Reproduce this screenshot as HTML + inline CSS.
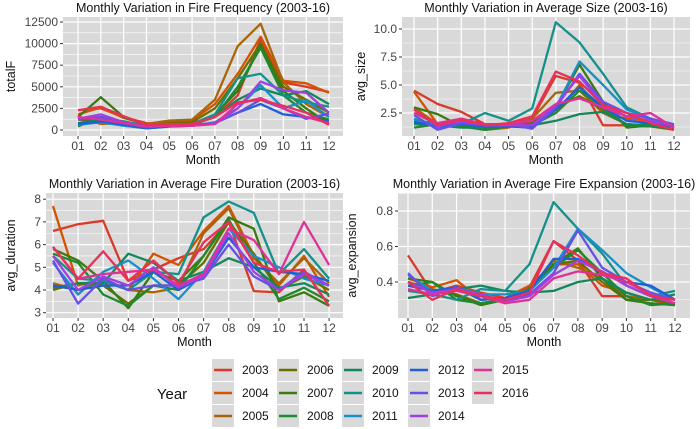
<!DOCTYPE html>
<html><head><meta charset="utf-8"><style>
body{margin:0;background:#fff;}
svg{font-family:"Liberation Sans",sans-serif;display:block;}
</style></head><body>
<svg id="c" width="696" height="429" viewBox="0 0 696 429"></svg>
<script>
const months=["01","02","03","04","05","06","07","08","09","10","11","12"];
const years=["2003","2004","2005","2006","2007","2008","2009","2010","2011","2012","2013","2014","2015","2016"];
const colors=["#D93A2B","#D35400","#A9650A","#6B6E00","#3A7A10","#1E8A2E","#14875A","#14918A","#1790C8","#1D5FD6","#6650E6","#A040E0","#E0309A","#E8305A"];
const totalF=[
[2300,2500,1500,800,600,800,1500,4000,10500,5500,5000,4400],
[1800,2600,1400,700,1000,1100,3000,6500,10800,5700,5400,4300],
[1500,700,800,700,1100,1200,3500,9700,12300,5500,3000,1500],
[1200,1000,900,500,800,900,2500,6000,10000,5000,3500,2000],
[1500,3800,1500,600,500,700,1800,4500,9800,4500,2500,700],
[400,1500,900,400,500,600,1500,5000,9500,4000,2000,1200],
[800,1200,1000,500,600,700,1500,3500,4800,4000,4500,3000],
[1300,1500,1000,400,600,700,1800,6000,6500,4000,3200,2700],
[600,900,500,200,400,500,900,2500,5200,2500,3400,1500],
[700,1000,600,200,400,500,800,2000,3000,1800,1500,1000],
[1200,1500,800,300,500,600,800,2000,3500,2500,1300,1900],
[1300,1800,900,400,500,500,700,2500,5600,4600,4300,2000],
[1500,1200,800,400,500,500,700,3000,3700,2500,1500,800],
[2300,2700,1600,600,700,700,1500,3200,3500,2800,2000,600]];
const avgSize=[
[4.5,3.3,2.6,1.5,1.4,2.0,5.8,5.2,1.4,1.4,1.3,1.2],
[4.4,1.5,1.5,1.2,1.3,1.6,2.5,5.0,2.5,2.0,1.8,1.1],
[3.0,1.5,1.4,1.0,1.2,2.0,4.3,4.5,2.5,1.5,1.3,1.0],
[2.5,1.5,1.8,1.5,1.4,1.6,3.0,4.0,2.8,1.4,1.5,1.2],
[3.0,2.4,1.3,1.0,1.3,1.5,3.0,6.8,3.5,1.2,1.4,1.3],
[1.2,1.5,1.4,1.0,1.3,1.4,2.5,4.5,3.0,1.4,1.3,1.1],
[1.5,1.4,1.2,1.2,1.3,1.4,1.8,2.4,2.6,1.5,1.4,1.2],
[1.8,1.6,1.5,2.5,1.8,2.9,10.6,8.8,6.0,3.0,2.0,1.4],
[2.0,1.2,1.5,1.3,1.3,1.2,3.0,7.1,5.0,2.8,2.0,1.2],
[1.7,1.3,1.5,1.3,1.3,1.2,2.8,4.8,3.0,1.8,1.6,1.3],
[2.3,1.0,1.6,1.4,1.5,1.1,3.0,6.0,3.5,2.5,2.0,1.5],
[2.8,1.3,1.8,1.4,1.4,1.4,3.2,5.8,3.2,2.2,1.8,1.3],
[2.5,1.6,2.0,1.5,1.5,1.8,3.3,3.8,3.0,2.2,2.5,1.2],
[2.8,1.4,1.9,1.4,1.6,2.2,6.2,5.3,3.2,2.5,1.6,1.0]];
const avgDuration=[
[6.6,6.9,7.05,4.4,4.9,5.4,5.8,7.0,3.95,3.9,4.9,3.3],
[7.7,4.2,4.5,4.0,5.6,5.1,6.6,7.7,5.5,4.2,5.5,3.7],
[4.3,4.0,4.4,4.0,3.9,4.1,6.5,7.6,5.4,4.3,5.4,4.3],
[4.0,4.3,4.2,3.4,4.2,4.2,5.2,7.0,5.6,4.0,4.6,4.0],
[5.8,5.3,4.4,3.2,4.8,4.4,5.5,7.2,6.7,3.5,3.9,3.3],
[5.6,5.2,3.8,3.3,4.2,4.0,5.5,7.1,5.2,3.6,4.1,3.5],
[4.1,4.3,4.3,5.6,5.2,4.4,4.8,5.4,5.0,4.1,4.3,3.8],
[5.5,4.5,4.4,4.0,4.8,4.7,7.2,7.9,7.4,4.7,5.8,4.5],
[5.2,3.8,4.8,5.3,4.5,3.6,4.8,6.7,5.5,5.0,4.5,4.2],
[4.2,4.0,4.2,4.2,4.8,4.0,4.6,6.3,5.0,4.8,4.7,4.4],
[5.3,3.4,4.5,4.0,4.2,4.2,4.5,6.0,4.6,4.0,4.8,4.2],
[5.5,4.0,4.6,4.2,5.0,4.1,4.6,6.5,4.8,4.0,4.7,4.2],
[5.9,4.5,4.7,4.8,4.9,4.2,4.7,6.7,6.2,4.7,7.0,5.1],
[5.9,4.5,5.7,4.4,5.3,4.3,6.1,7.0,5.2,4.8,4.9,3.3]];
const avgExpansion=[
[0.55,0.34,0.38,0.34,0.31,0.37,0.63,0.52,0.32,0.32,0.30,0.27],
[0.42,0.37,0.41,0.30,0.31,0.38,0.50,0.50,0.38,0.34,0.30,0.28],
[0.40,0.36,0.33,0.28,0.30,0.36,0.52,0.48,0.42,0.32,0.30,0.28],
[0.40,0.35,0.33,0.28,0.30,0.36,0.50,0.52,0.40,0.30,0.30,0.28],
[0.42,0.40,0.32,0.27,0.30,0.35,0.50,0.59,0.42,0.30,0.28,0.27],
[0.38,0.40,0.30,0.28,0.30,0.36,0.48,0.58,0.45,0.32,0.27,0.28],
[0.31,0.33,0.36,0.38,0.35,0.34,0.35,0.40,0.42,0.34,0.30,0.33],
[0.35,0.33,0.30,0.36,0.35,0.50,0.85,0.70,0.56,0.38,0.32,0.35],
[0.44,0.35,0.37,0.33,0.33,0.35,0.48,0.70,0.58,0.45,0.37,0.30],
[0.38,0.35,0.37,0.30,0.31,0.35,0.53,0.53,0.45,0.40,0.38,0.30],
[0.45,0.32,0.37,0.32,0.30,0.33,0.45,0.69,0.48,0.40,0.34,0.30],
[0.40,0.34,0.36,0.33,0.29,0.32,0.44,0.52,0.46,0.38,0.32,0.28],
[0.36,0.33,0.35,0.32,0.28,0.30,0.42,0.46,0.44,0.40,0.33,0.28],
[0.40,0.30,0.36,0.32,0.30,0.34,0.63,0.55,0.45,0.42,0.32,0.30]];
const ticksF=[0,2500,5000,7500,10000,12500];
const ticksS=[2.5,5,7.5,10];
const ticksD=[3,4,5,6,7,8];
const ticksE=[0.4,0.6,0.8];

const svg=document.getElementById('c');
const NS="http://www.w3.org/2000/svg";
function mk(tag,attrs,parent){const e=document.createElementNS(NS,tag);for(const k in attrs)e.setAttribute(k,attrs[k]);(parent||svg).appendChild(e);return e;}

function panel(cfg){
  const g=mk('g',{});
  
  
  const yS=v=>cfg.y0px-(v-cfg.v0)*(cfg.y1px-cfg.y0px)/(cfg.v1-cfg.v0)*-1;
  const xS=i=>cfg.x01+i*cfg.step;
  const bg=mk('rect',{x:cfg.L,y:cfg.T,width:cfg.R-cfg.L,height:cfg.B-cfg.T,fill:'#D9D9D9'},g);
  
  
  const t=cfg.ticks;
  const step=t[1]-t[0];
  for(let v=t[0]-step/2;v<=t[t.length-1]+step;v+=step/2){
    const y=yS(v);if(y<cfg.T||y>cfg.B)continue;
    const major=t.some(tv=>Math.abs(tv-v)<1e-9);
    mk('line',{x1:cfg.L,x2:cfg.R,y1:y,y2:y,stroke:'#fff','stroke-width':major?1.2:0.6},g);
  }
  months.forEach((m,i)=>{
    const x=xS(i);
    mk('line',{x1:x,x2:x,y1:cfg.T,y2:cfg.B,stroke:'#fff','stroke-width':1.2},g);
    mk('line',{x1:x,x2:x,y1:cfg.B,y2:cfg.B+3,stroke:'#333','stroke-width':1},g);
    const tl=mk('text',{x:x,y:cfg.B+14,'text-anchor':'middle','font-size':12,fill:'#444'},g);
    tl.textContent=m;
    
    
  });
  t.forEach(v=>{
    const y=yS(v);
    mk('line',{x1:cfg.L-3,x2:cfg.L,y1:y,y2:y,stroke:'#333','stroke-width':1},g);
    const tl=mk('text',{x:cfg.L-5,y:y+4,'text-anchor':'end','font-size':12,fill:'#444'},g);
    tl.textContent=cfg.fmt(v);
    
    
  });
  cfg.data.forEach((series,k)=>{
    const pts=series.map((v,i)=>xS(i).toFixed(1)+','+yS(v).toFixed(1)).join(' ');
    const pl=mk('polyline',{points:pts,fill:'none',stroke:colors[k],'stroke-width':2.3,'stroke-linejoin':'round'},g);
    
    
  });
  const tt=mk('text',{x:(cfg.L+cfg.R)/2,y:cfg.T-5,'text-anchor':'middle','font-size':12.5,fill:'#111'},g);
  tt.textContent=cfg.title;
  
  
  const xt=mk('text',{x:(cfg.L+cfg.R)/2,y:cfg.B+28,'text-anchor':'middle','font-size':12.5,fill:'#111'},g);
  xt.textContent='Month';
  
  
  const yc=(cfg.T+cfg.B)/2;
  const yt=mk('text',{x:cfg.ytx,y:yc,'text-anchor':'middle','font-size':12.5,fill:'#111',transform:`rotate(-90 ${cfg.ytx} ${yc})`},g);
  yt.textContent=cfg.ylab;
  
  
}
panel({name:'frequency-panel',title:'Monthly Variation in Fire Frequency (2003-16)',ylab:'totalF',data:totalF,ticks:ticksF,
  L:63,R:343,T:17,B:136,x01:78,step:22.82,v0:0,y0px:130,v1:12500,y1px:22,ytx:15,fmt:v=>String(v)});
panel({name:'size-panel',title:'Monthly Variation in Average Size (2003-16)',ylab:'avg_size',data:avgSize,ticks:ticksS,
  L:402,R:690,T:17,B:136,x01:414,step:23.64,v0:2.5,y0px:113,v1:10,y1px:29,ytx:365,fmt:v=>v.toFixed(1)});
panel({name:'duration-panel',title:'Monthly Variation in Average Fire Duration (2003-16)',ylab:'avg_duration',data:avgDuration,ticks:ticksD,
  L:46,R:343,T:193,B:318,x01:53,step:25.1,v0:3,y0px:312.7,v1:8,y1px:199.2,ytx:15,fmt:v=>String(v)});
panel({name:'expansion-panel',title:'Monthly Variation in Average Fire Expansion (2003-16)',ylab:'avg_expansion',data:avgExpansion,ticks:ticksE,
  L:398,R:690,T:193,B:318,x01:408,step:24.27,v0:0.4,y0px:282,v1:0.8,y1px:211,ytx:356,fmt:v=>v.toFixed(1)});

// legend
const lg=mk('g',{});


const lt=mk('text',{x:172,y:399,'text-anchor':'middle','font-size':15,fill:'#111'},lg);
lt.textContent='Year';


const colX=[212,277,342,408,472];
const rowY=[370,393,416];
years.forEach((yr,k)=>{
  const c=Math.floor(k/3),r=k%3;
  const x=colX[c],y=rowY[r];
  const e=mk('g',{},lg);
  
  
  mk('rect',{x:x,y:y-11,width:22,height:22,fill:'#D9D9D9'},e);
  mk('line',{x1:x+2,x2:x+20,y1:y,y2:y,stroke:colors[k],'stroke-width':2.5},e);
  const tx=mk('text',{x:x+30,y:y+4,'font-size':12,fill:'#111'},e);
  tx.textContent=yr;
});
</script>
</body></html>
